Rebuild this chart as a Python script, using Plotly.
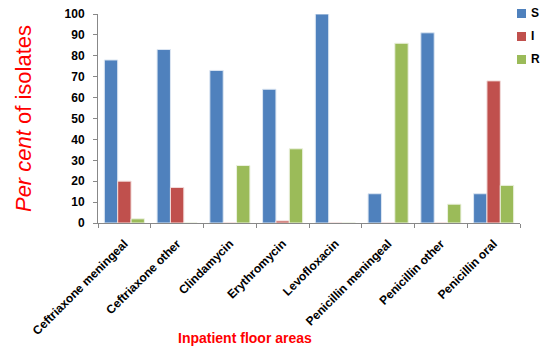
import plotly.graph_objects as go

categories = [
    "Ceftriaxone meningeal", "Ceftriaxone other", "Clindamycin", "Erythromycin",
    "Levofloxacin", "Penicillin meningeal", "Penicillin other", "Penicillin oral",
]
s_values = [78, 83, 73, 64, 100, 14, 91, 14]
i_values = [20, 17, 0, 1, 0, 0, 0, 68]
r_values = [2, 0, 27.5, 35.5, 0, 86, 9, 18]
y_ticks = list(range(0, 101, 10))

series = [
    ("S", s_values, "#4F81BD", "#DCE6F2"),
    ("I", i_values, "#C0504D", "#F2DCDB"),
    ("R", r_values, "#9BBB59", "#EBF1DE"),
]

W, H = 542, 360
L, R, T, B = 98, 22, 14, 137
plot_w = W - L - R
plot_h = H - T - B


def px_x(x):
    return (x - L) / plot_w


def px_y(y):
    return (H - B - y) / plot_h


fig = go.Figure()
for name, vals, color, edge in series:
    fig.add_trace(go.Bar(
        x=categories, y=vals, name=name, showlegend=False,
        marker=dict(color=color, line=dict(color=edge, width=1)),
    ))

fig.update_layout(
    width=W, height=H,
    margin=dict(l=L, r=R, t=T, b=B, autoexpand=False),
    paper_bgcolor="white", plot_bgcolor="white",
    barmode="group", bargap=0.24, bargroupgap=0,
    font=dict(family="Arial, Liberation Sans, sans-serif", color="black"),
)

fig.update_xaxes(
    type="category", tickson="boundaries", ticks="outside", ticklen=4,
    tickcolor="#888", showline=True, linecolor="#888", linewidth=1,
    tickangle=-45, tickfont=dict(size=12, color="black", weight="bold"),
    ticklabelstandoff=8, showgrid=False,
)
fig.update_yaxes(
    range=[0, 100], tickvals=y_ticks, ticks="outside", ticklen=4,
    tickcolor="#888", showline=True, linecolor="#888", linewidth=1,
    tickfont=dict(size=12, color="black", weight="bold"), showgrid=False,
    ticklabelstandoff=6,
    title=dict(text="<i>Per cent</i> of isolates", font=dict(size=22, color="red"), standoff=26),
)

# legend keys drawn at the upper right
for k, (name, _, color, _) in enumerate(series):
    top = 9 + k * 23
    fig.add_shape(
        type="rect", xref="paper", yref="paper",
        x0=px_x(517), x1=px_x(526), y0=px_y(top + 9), y1=px_y(top),
        fillcolor=color, line=dict(width=0),
    )
    fig.add_annotation(
        text=f"<b>{name}</b>", x=px_x(529), y=px_y(top + 4.5),
        xref="paper", yref="paper", xanchor="left", yanchor="middle",
        showarrow=False, font=dict(size=12, color="black"),
    )

# x-axis caption
fig.add_annotation(
    text="<b>Inpatient floor areas</b>",
    x=px_x(245), y=px_y(348),
    xref="paper", yref="paper", showarrow=False,
    font=dict(size=14, color="red"),
)

fig.write_html("out.html")
